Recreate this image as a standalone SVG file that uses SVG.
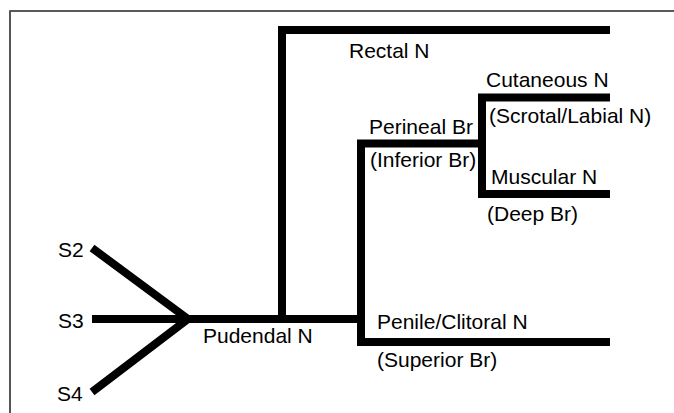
<svg xmlns="http://www.w3.org/2000/svg" width="674" height="413" viewBox="0 0 674 413">
<style>
.nerve{fill:none;stroke:#000;stroke-width:8;stroke-linecap:butt;stroke-linejoin:miter;stroke-miterlimit:10}
.lbl{font-family:"Liberation Sans",Arial,Helvetica,sans-serif;font-size:21px;fill:#000}
</style>
<rect width="674" height="413" fill="#fff"/>
<g id="frame">
<line x1="10" y1="11" x2="674" y2="11" stroke="#222" stroke-width="1.5"/>
<line x1="10" y1="10.2" x2="10" y2="413" stroke="#555" stroke-width="2"/>
</g>
<g id="connectors">
<polyline class="nerve" points="92,248 188,319 92,392"/>
<line class="nerve" x1="92" y1="319" x2="361" y2="319"/>
<polyline class="nerve" points="282,319 282,30 610,30"/>
<polyline class="nerve" points="482,143.5 361,143.5 361,342 610,342"/>
<polyline class="nerve" points="610,97.5 482,97.5 482,194 610,194"/>
</g>
<g id="s2"><text class="lbl" x="58" y="257">S2</text></g>
<g id="s3"><text class="lbl" x="58" y="328">S3</text></g>
<g id="s4"><text class="lbl" x="57" y="401">S4</text></g>
<g id="pudendal"><text class="lbl" x="203" y="343">Pudendal N</text></g>
<g id="rectal"><text class="lbl" x="349" y="58">Rectal N</text></g>
<g id="perineal"><text class="lbl" x="369" y="134">Perineal Br</text><text class="lbl" x="370" y="167">(Inferior Br)</text></g>
<g id="cutaneous"><text class="lbl" x="486" y="87">Cutaneous N</text><text class="lbl" x="489" y="123">(Scrotal/Labial N)</text></g>
<g id="muscular"><text class="lbl" x="491" y="184">Muscular N</text><text class="lbl" x="487" y="221">(Deep Br)</text></g>
<g id="penile"><text class="lbl" x="377" y="329">Penile/Clitoral N</text><text class="lbl" x="377" y="367">(Superior Br)</text></g>
</svg>
